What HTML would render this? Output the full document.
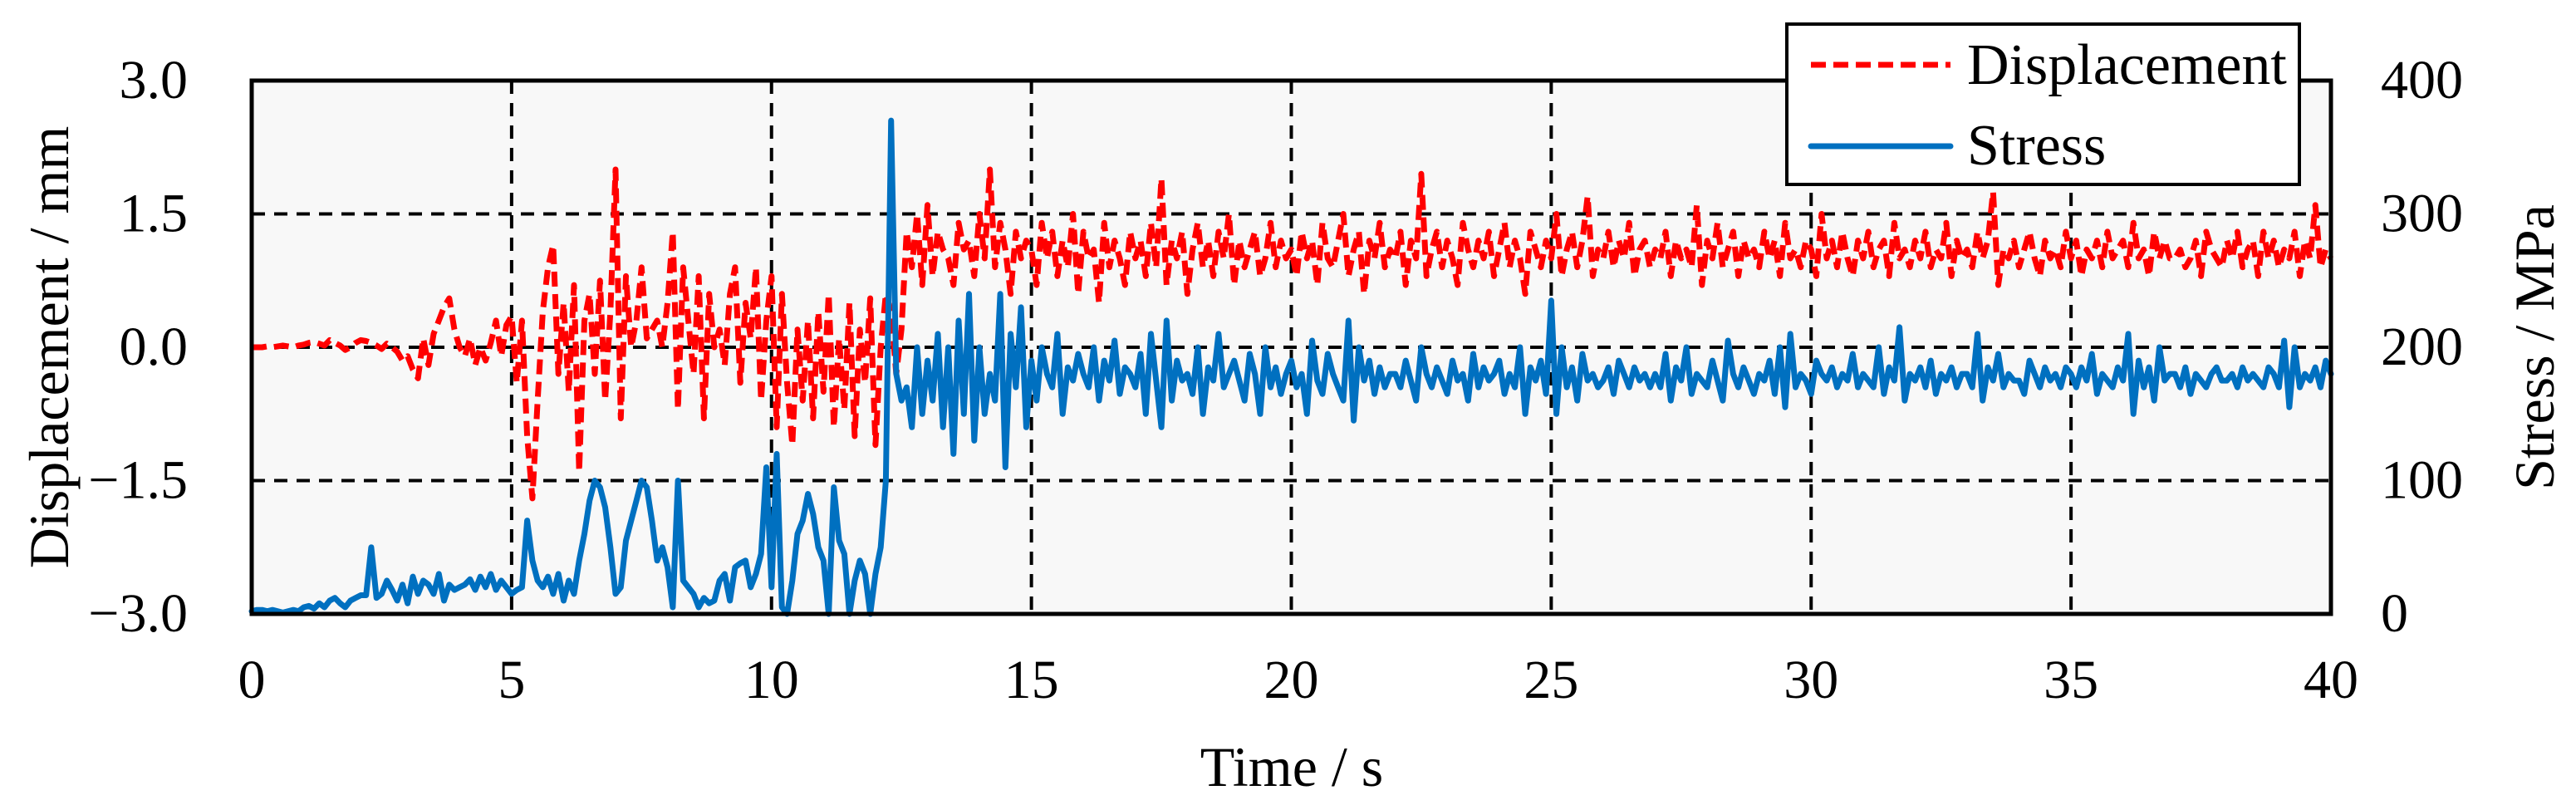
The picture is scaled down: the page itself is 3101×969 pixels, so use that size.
<!DOCTYPE html>
<html><head><meta charset="utf-8"><style>
html,body{margin:0;padding:0;background:#fff}
svg{display:block;font-family:"Liberation Serif",serif}
</style></head><body>
<svg id="chart" width="3101" height="969" viewBox="0 0 3101 969" xmlns="http://www.w3.org/2000/svg">
<rect x="303" y="97" width="2503" height="642" fill="#f8f8f8"/>
<g id="grid"></g>
<g id="series"></g>
<rect x="303" y="97" width="2503" height="642" fill="none" stroke="#000" stroke-width="5"/>
<g id="axes" font-size="66" fill="#000"></g>
<text transform="translate(82,418) rotate(-90)" text-anchor="middle" font-size="68">Displacement / mm</text>
<text transform="translate(3074,418) rotate(-90)" text-anchor="middle" font-size="68">Stress / MPa</text>
<text x="1555" y="946" text-anchor="middle" font-size="68">Time / s</text>
<g>
<rect x="2151" y="29" width="617" height="193" fill="#fff" stroke="#000" stroke-width="4"/>
<line x1="2180" y1="78" x2="2348" y2="78" stroke="#ff0000" stroke-width="7" stroke-dasharray="18,9"/>
<text x="2368" y="101" font-size="70">Displacement</text>
<line x1="2180" y1="176" x2="2348" y2="176" stroke="#0070c0" stroke-width="7" stroke-linecap="round"/>
<text x="2368" y="198" font-size="70">Stress</text>
</g>
</svg>
<script>
const xTicks=[0,5,10,15,20,25,30,35,40];
const leftTicks=[-3.0,-1.5,0.0,1.5,3.0];
const leftTickLabels=["\u22123.0","\u22121.5","0.0","1.5","3.0"];
const rightTicks=[0,100,200,300,400];
const rightTickLabels=["0","100","200","300","400"];
const timeStep=0.1;
const displacement=[
0,0,0,0.01,0,0.01,0.02,0.01,0,0.02,
0.03,0.05,0.06,0.04,0.02,0.08,0.05,0.02,-0.03,0.0,
0.05,0.08,0.07,0.05,0.02,-0.02,0.04,0.0,-0.05,-0.15,
-0.1,-0.25,-0.35,0.1,-0.2,0.15,0.3,0.45,0.55,0.2,
0.0,-0.1,0.1,-0.2,0.0,-0.15,0.05,0.3,-0.1,0.25,
0.35,-0.4,0.3,-1.0,-1.7,-0.6,0.4,0.9,1.15,-0.3,
0.5,-0.5,0.7,-1.4,0.3,0.6,-0.3,0.75,-0.6,0.4,
2.0,-0.8,0.8,0.0,0.3,0.9,0.1,0.2,0.3,0.0,
0.5,1.3,-0.7,0.9,0.3,-0.3,0.8,-0.8,0.6,0.0,
0.2,-0.2,0.6,0.9,-0.4,0.5,0.1,0.9,-0.6,0.3,
0.8,-0.9,0.6,-0.4,-1.1,0.2,-0.6,0.3,-0.8,0.4,
-0.5,0.6,-0.9,0.1,-0.7,0.5,-1.0,0.2,-0.4,0.55,
-1.1,0.0,0.6,0.4,-0.3,0.2,1.3,0.9,1.5,0.7,
1.6,0.8,1.3,1.1,1.0,0.7,1.4,1.1,1.2,0.8,
1.5,1.0,2.0,0.9,1.4,1.1,0.6,1.3,1.0,1.2,
1.1,0.7,1.4,1.0,1.3,0.8,1.2,0.9,1.5,0.6,
1.3,1.0,1.1,0.5,1.4,0.9,1.2,1.0,0.7,1.3,
1.0,1.2,0.8,1.4,0.9,1.9,0.7,1.2,1.0,1.3,
0.6,1.1,1.4,0.9,1.2,0.8,1.3,1.0,1.5,0.7,
1.2,0.9,1.1,1.3,0.8,1.0,1.4,0.9,1.2,1.0,
1.1,0.8,1.3,1.0,1.2,0.7,1.4,1.0,0.9,1.2,
1.5,0.8,1.1,1.3,0.6,1.2,1.0,1.4,0.9,1.1,
1.0,1.3,0.7,1.2,1.0,1.95,0.8,1.1,1.3,0.9,
1.2,1.0,0.7,1.4,1.1,0.9,1.2,1.0,1.3,0.8,
1.1,1.4,0.9,1.2,1.0,0.6,1.3,1.1,0.9,1.2,
1.0,1.5,0.8,1.1,1.3,0.9,1.2,1.7,0.8,1.1,
1.0,1.3,0.9,1.2,1.0,1.4,0.8,1.1,1.2,0.9,
1.1,1.0,1.3,0.8,1.2,1.0,1.1,0.9,1.6,0.7,
1.2,1.0,1.4,0.9,1.1,1.3,0.8,1.2,1.0,1.1,
0.9,1.3,1.0,1.2,0.8,1.4,1.0,1.1,0.9,1.2,
1.1,0.8,1.5,1.0,1.2,0.9,1.3,1.0,0.8,1.2,
1.0,1.3,0.9,1.1,1.2,0.8,1.4,1.0,1.1,0.9,
1.2,1.0,1.3,0.9,1.1,1.0,1.4,0.8,1.2,1.0,
1.1,0.9,1.3,1.0,1.2,1.75,0.7,1.1,1.0,1.2,
0.9,1.1,1.3,1.0,0.8,1.2,1.0,1.1,0.9,1.3,
1.0,1.2,0.8,1.1,1.0,1.2,0.9,1.3,1.0,1.1,
1.2,0.9,1.4,1.0,1.1,0.8,1.3,1.0,1.2,1.0,
1.0,1.1,0.9,1.0,1.2,0.8,1.3,1.1,1.0,0.9,
1.2,1.0,1.3,0.9,1.1,1.2,0.8,1.3,1.0,1.2,
0.9,1.1,1.0,1.3,0.8,1.2,1.0,1.6,0.9,1.1,
1.0];
const stress=[
2,3,3,2,3,2,1,2,3,2,
5,6,4,8,5,10,12,8,5,10,
12,14,14,50,12,15,25,18,10,22,
8,28,15,25,22,15,30,10,22,18,
20,22,26,18,28,20,30,18,25,20,
15,18,20,70,40,25,20,28,15,30,
10,25,15,40,60,85,100,95,80,50,
15,20,55,70,85,100,95,70,40,50,
35,5,100,25,20,15,5,12,8,10,
25,30,10,35,38,40,20,30,45,110,
20,120,5,0,25,60,70,90,75,50,
40,0,95,55,45,0,25,40,30,0,
30,50,100,370,180,160,170,140,200,150,
190,160,210,140,200,120,220,150,240,130,
200,150,180,160,240,110,210,170,230,140,
190,160,200,180,170,210,150,185,175,195,
180,170,200,160,190,175,205,165,185,180,
170,195,150,210,175,140,220,160,190,175,
180,165,200,150,185,175,210,170,180,190,
175,160,195,180,150,200,170,185,165,180,
190,170,180,150,205,175,165,195,180,170,
160,220,145,200,175,190,165,185,170,180,
180,170,190,175,160,200,180,170,185,175,
165,190,175,180,160,195,170,185,175,180,
190,165,180,170,200,150,185,175,190,165,
235,150,200,170,185,160,195,175,180,170,
175,185,165,190,180,170,185,175,180,170,
180,170,195,160,185,175,200,165,180,175,
170,190,175,160,205,180,170,185,175,165,
180,175,190,165,200,155,210,170,180,175,
165,190,180,175,185,170,180,175,195,170,
180,175,170,200,165,185,175,215,160,180,
175,185,170,190,165,180,175,185,170,180,
180,170,210,160,185,175,195,170,180,175,
175,165,190,180,170,185,175,180,170,185,
180,170,185,175,195,165,180,175,170,185,
175,210,150,190,170,185,160,200,175,180,
180,170,185,165,180,175,170,180,185,175,
175,180,170,185,175,180,175,170,185,180,
170,205,155,200,170,180,175,185,170,190,
180];
const L=303,R=2806,T=97,B=739;
const xScale=t=>L+t/40*(R-L);
const yDisp=d=>B-(d+3)/6*(B-T);
const yStress=s=>B-s/400*(B-T);
const NS="http://www.w3.org/2000/svg";
const grid=document.getElementById('grid');
const axes=document.getElementById('axes');
const series=document.getElementById('series');
function mk(tag,attrs,parent){const e=document.createElementNS(NS,tag);for(const k in attrs)e.setAttribute(k,attrs[k]);parent.appendChild(e);return e;}
xTicks.forEach(v=>{
  if(v>0&&v<40){
    const g=mk('line',{x1:xScale(v),x2:xScale(v),y1:T,y2:B,stroke:'#000','stroke-width':4,'stroke-dasharray':'16,11'},grid);
    
    
  }
  const t=mk('text',{x:xScale(v),y:840,'text-anchor':'middle'},axes);
  t.textContent=String(v);
  
  
});
leftTicks.forEach((v,i)=>{
  if(v>-3&&v<3){
    const g=mk('line',{x1:L,x2:R,y1:yDisp(v),y2:yDisp(v),stroke:'#000','stroke-width':4,'stroke-dasharray':'16,11'},grid);
    
    
  }
  const t=mk('text',{x:226,y:yDisp(v)+21,'text-anchor':'end'},axes);
  t.textContent=leftTickLabels[i];
  
  
});
rightTicks.forEach((v,i)=>{
  const t=mk('text',{x:2866,y:yStress(v)+21,'text-anchor':'start'},axes);
  t.textContent=rightTickLabels[i];
  
  
});
const dPts=displacement.map((d,i)=>xScale(i*timeStep).toFixed(1)+','+yDisp(d).toFixed(1)).join(' ');
const sPts=stress.map((s,i)=>xScale(i*timeStep).toFixed(1)+','+yStress(s).toFixed(1)).join(' ');
const dl=mk('polyline',{points:dPts,fill:'none',stroke:'#ff0000','stroke-width':7,'stroke-dasharray':'18,9','stroke-linejoin':'round'},series);


const sl=mk('polyline',{points:sPts,fill:'none',stroke:'#0070c0','stroke-width':7,'stroke-linejoin':'round','stroke-linecap':'round'},series);


</script>
</body></html>
